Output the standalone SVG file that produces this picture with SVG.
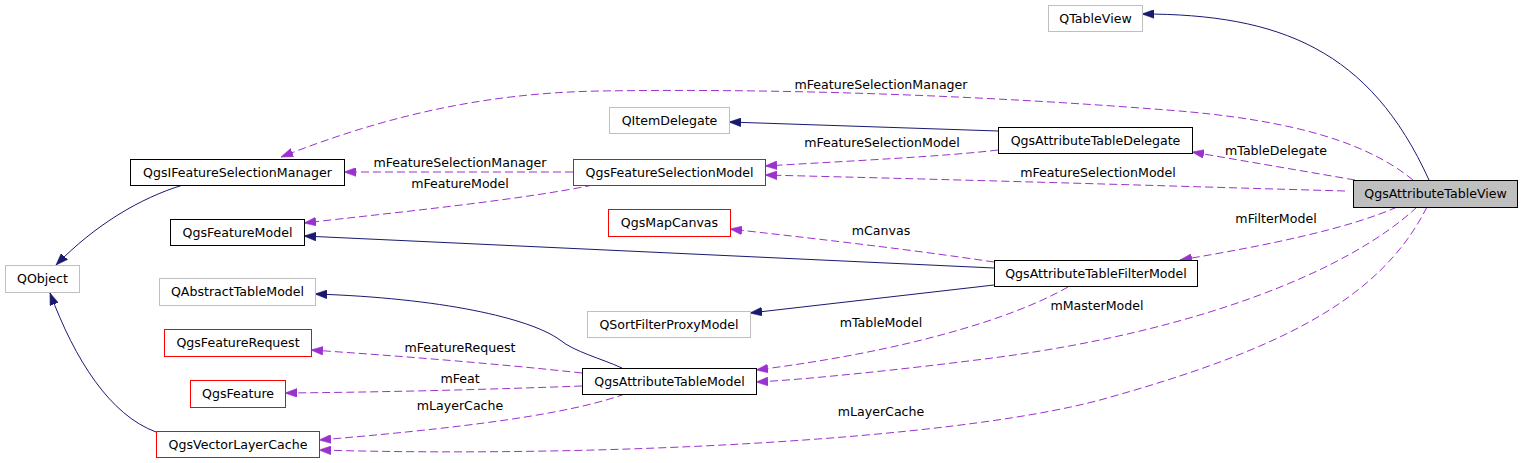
<svg xmlns="http://www.w3.org/2000/svg" width="1525" height="463" viewBox="0 0 1525 463">
<style>
text{font-family:"DejaVu Sans","Liberation Sans",sans-serif;font-size:12.6px;fill:#000;text-anchor:middle}
.n rect{fill:#fff;stroke:#000;stroke-width:1}
.n.ext rect{stroke:#bfbfbf}
.n.inc rect{stroke:#ff0000}
.n.root rect{fill:#bfbfbf;stroke:#000}
.inh{fill:none;stroke:#191970;stroke-width:1;marker-end:url(#aNavy)}
.use{fill:none;stroke:#9a32cd;stroke-width:1;stroke-dasharray:8,4;marker-end:url(#aPurple)}
</style>
<defs>
<marker id="aNavy" markerUnits="userSpaceOnUse" markerWidth="12" markerHeight="9" viewBox="0 0 11 8" refX="11" refY="4" orient="auto"><path d="M0,0 L11,4 L0,8 z" fill="#191970" stroke="#191970" stroke-width="0.5"/></marker>
<marker id="aPurple" markerUnits="userSpaceOnUse" markerWidth="12" markerHeight="9" viewBox="0 0 11 8" refX="11" refY="4" orient="auto"><path d="M0,0 L11,4 L0,8 z" fill="#9a32cd" stroke="#9a32cd" stroke-width="0.5"/></marker>
</defs>
<rect width="1525" height="463" fill="#fff"/>
<g id="connectors">
<path class="inh" d="M1429,180 C1370,50 1280,14 1142,14"/>
<path class="inh" d="M998,131 L729,122"/>
<path class="inh" d="M994,268 L304,236"/>
<path class="inh" d="M994,285 L750,313"/>
<path class="inh" d="M622,368 C600,358 575,352 560,340 C530,318 440,298 315,294"/>
<path class="inh" d="M183,185 C140,198 95,225 56,265"/>
<path class="inh" d="M156,432 C110,415 75,360 50,293"/>
<path class="use" d="M1413,180 C1370,145 1300,120 1167,110 C1000,97 800,88 600,91 C480,93 380,118 281,157"/>
<text x="881" y="89">mFeatureSelectionManager</text>
<path class="use" d="M1355,180 L1192,152"/>
<text x="1276" y="155">mTableDelegate</text>
<path class="use" d="M1345,191 C1200,187 1050,182 765,175"/>
<text x="1098" y="177">mFeatureSelectionModel</text>
<path class="use" d="M998,150 C950,156 850,161 765,166"/>
<text x="882" y="147">mFeatureSelectionModel</text>
<path class="use" d="M573,172 L344,172"/>
<text x="460" y="167">mFeatureSelectionManager</text>
<path class="use" d="M593,185 C520,200 400,212 304,223"/>
<text x="460" y="188">mFeatureModel</text>
<path class="use" d="M994,262 C900,248 800,237 730,229"/>
<text x="881" y="235">mCanvas</text>
<path class="use" d="M1397,207 C1350,228 1270,245 1180,260"/>
<text x="1276" y="223">mFilterModel</text>
<path class="use" d="M1068,287 C1010,320 900,352 756,370"/>
<text x="881" y="327">mTableModel</text>
<path class="use" d="M1417,207 C1350,270 1200,330 1000,357 C900,370 800,380 756,382"/>
<text x="1097" y="310">mMasterModel</text>
<path class="use" d="M1427,207 C1380,300 1280,350 1100,400 C950,440 600,458 319,450"/>
<text x="881" y="416">mLayerCache</text>
<path class="use" d="M582,373 C500,364 400,356 311,350"/>
<text x="460" y="352">mFeatureRequest</text>
<path class="use" d="M582,386 C500,389 400,392 285,393"/>
<text x="460" y="383">mFeat</text>
<path class="use" d="M625,394 C580,410 500,425 319,440"/>
<text x="460" y="410">mLayerCache</text>
</g>
<g id="QgsAttributeTableView" class="n root"><rect x="1353.5" y="180.5" width="164" height="27"/><text x="1435.5" y="198">QgsAttributeTableView</text></g>
<g id="QTableView" class="n ext"><rect x="1048.5" y="5.5" width="94" height="26"/><text x="1095.5" y="23">QTableView</text></g>
<g id="QgsIFeatureSelectionManager" class="n"><rect x="130.5" y="159.5" width="214" height="26"/><text x="237.5" y="177">QgsIFeatureSelectionManager</text></g>
<g id="QObject" class="n ext"><rect x="5.5" y="265.5" width="74" height="27"/><text x="42.5" y="283">QObject</text></g>
<g id="QItemDelegate" class="n ext"><rect x="609.5" y="107.5" width="120" height="26"/><text x="669.5" y="125">QItemDelegate</text></g>
<g id="QgsAttributeTableDelegate" class="n"><rect x="998.5" y="127.5" width="194" height="26"/><text x="1095.5" y="145">QgsAttributeTableDelegate</text></g>
<g id="QgsFeatureSelectionModel" class="n inc"><rect x="573.5" y="159.5" width="192" height="26"/><text x="669.5" y="177">QgsFeatureSelectionModel</text></g>
<g id="QgsFeatureModel" class="n"><rect x="170.5" y="219.5" width="134" height="26"/><text x="237.5" y="237">QgsFeatureModel</text></g>
<g id="QgsMapCanvas" class="n inc"><rect x="608.5" y="209.5" width="122" height="27"/><text x="669.5" y="227">QgsMapCanvas</text></g>
<g id="QgsAttributeTableFilterModel" class="n"><rect x="994.5" y="260.5" width="203" height="26"/><text x="1096" y="278">QgsAttributeTableFilterModel</text></g>
<g id="QAbstractTableModel" class="n ext"><rect x="159.5" y="278.5" width="156" height="27"/><text x="237.5" y="296">QAbstractTableModel</text></g>
<g id="QSortFilterProxyModel" class="n ext"><rect x="587.5" y="311.5" width="163" height="26"/><text x="669" y="329">QSortFilterProxyModel</text></g>
<g id="QgsFeatureRequest" class="n inc"><rect x="164.5" y="329.5" width="147" height="27"/><text x="238" y="347">QgsFeatureRequest</text></g>
<g id="QgsAttributeTableModel" class="n"><rect x="582.5" y="368.5" width="174" height="26"/><text x="669.5" y="386">QgsAttributeTableModel</text></g>
<g id="QgsFeature" class="n inc"><rect x="190.5" y="380.5" width="95" height="27"/><text x="238" y="398">QgsFeature</text></g>
<g id="QgsVectorLayerCache" class="n inc"><rect x="156.5" y="431.5" width="163" height="26"/><text x="238" y="449">QgsVectorLayerCache</text></g>
</svg>
